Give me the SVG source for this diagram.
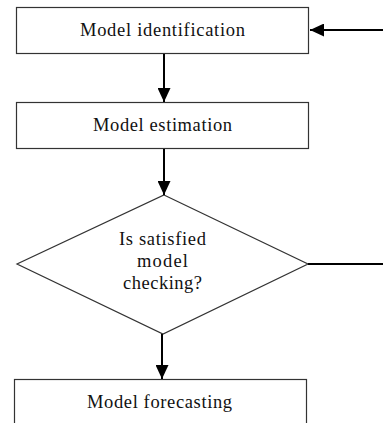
<svg xmlns="http://www.w3.org/2000/svg" width="383" height="423" viewBox="0 0 383 423">
<style>
.box{fill:#fff;stroke:#333;stroke-width:1.2}
.lbl{font-family:"Liberation Serif","Times New Roman",serif;font-size:18.5px;fill:#111;text-anchor:middle}
.con{stroke:#000;stroke-width:2;fill:none}
</style>
<defs>
<marker id="ah" viewBox="0 0 14 13" refX="14" refY="6.5" markerWidth="14" markerHeight="13" markerUnits="userSpaceOnUse" orient="auto">
<path d="M0,0 L14,6.5 L0,13 Z" fill="#000"/>
</marker>
</defs>
<rect width="383" height="423" fill="#fff"/>
<g id="n1"><rect class="box" x="16.5" y="7.5" width="292" height="46"/>
<text class="lbl" x="162.5" y="36" textLength="165" lengthAdjust="spacing">Model identification</text></g>
<g id="n2"><rect class="box" x="16.5" y="102.5" width="292" height="46"/>
<text class="lbl" x="162.5" y="131" textLength="139" lengthAdjust="spacing">Model estimation</text></g>
<g id="n3"><polygon class="box" points="164,195 308,264 163,334 17,264"/>
<text class="lbl" x="162.5" y="245" textLength="87" lengthAdjust="spacing">Is satisfied</text>
<text class="lbl" x="162.5" y="267" textLength="51" lengthAdjust="spacing">model</text>
<text class="lbl" x="162.5" y="289" textLength="79" lengthAdjust="spacing">checking?</text></g>
<g id="n4"><rect class="box" x="14.5" y="379.5" width="292" height="60"/>
<text class="lbl" x="159.5" y="408" textLength="145" lengthAdjust="spacing">Model forecasting</text></g>
<g id="connectors">
<line class="con" x1="164" y1="54" x2="164" y2="102" marker-end="url(#ah)"/>
<line class="con" x1="164" y1="149" x2="164" y2="195" marker-end="url(#ah)"/>
<line class="con" x1="162" y1="334" x2="162" y2="379" marker-end="url(#ah)"/>
<line class="con" x1="308" y1="264" x2="383" y2="264"/>
<line class="con" x1="383" y1="30" x2="310" y2="30" marker-end="url(#ah)"/>
</g>
</svg>
